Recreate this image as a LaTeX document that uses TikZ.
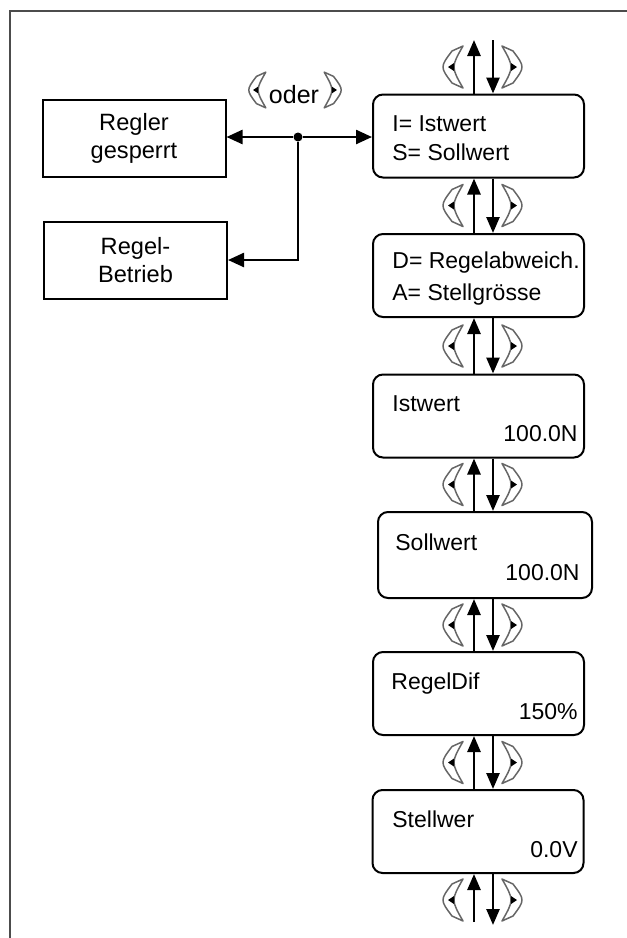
\documentclass[tikz,border=0pt]{standalone}
\usepackage{fontspec}
\setmainfont{Liberation Sans}
\usetikzlibrary{arrows.meta}
\tikzset{
  menubox/.style={draw,rounded corners=5pt,line width=1pt,
                  minimum width=105.5pt,minimum height=41.5pt,inner sep=0pt},
  statebox/.style={draw,line width=1pt,minimum width=91.5pt,minimum height=38.5pt,
                   align=center,inner sep=0pt,font=\fontsize{11.8}{14}\selectfont},
  menutext/.style={inner sep=0pt,font=\fontsize{11.5}{14}\selectfont},
  navarrow/.style={-{Triangle[length=8pt,width=6.5pt]},line width=1.3pt},
  conn/.style={-{Triangle[length=8pt,width=7pt]},line width=1.2pt},
  keyline/.style={draw=black!60,line width=0.75pt,line join=round},
  jdot/.style={circle,fill,inner sep=0pt,minimum size=4.5pt},
  keyleft/.pic={
    \draw[keyline] (-3,16) -- (8,21) .. controls (-4,0) .. (8,-21)
                   -- (-3,-16) .. controls (-15,0) .. cycle;
    \fill (-7,0) -- (-1,4) -- (-1,-4) -- cycle;
  },
  keyright/.pic={
    \draw[keyline] (3,16) -- (-8,21) .. controls (4,0) .. (-8,-21)
                   -- (3,-16) .. controls (15,0) .. cycle;
    \fill (7,0) -- (1,4) -- (1,-4) -- cycle;
  },
}

\begin{document}
\begin{tikzpicture}[x=0.5pt, y=-0.5pt]
\useasboundingbox (0,0) rectangle (627,938);
% frame (only top and left edge visible)
\draw[black!70,line width=1pt] (627,11) -- (10,11) -- (10,938);

% menu boxes
\node[menubox] (m1) at (478.5,136) {};
\node[menubox] (m2) at (478.5,275.5) {};
\node[menubox] (m3) at (478.5,416) {};
\node[menubox,minimum width=107pt,minimum height=43pt] (m4) at (485,555) {};
\node[menubox] (m5) at (478.5,693.5) {};
\node[menubox] (m6) at (478,831.5) {};

\node[menutext,anchor=base west] (isA) at (392,131) {I= Istwert};
\node[menutext,anchor=base west] (isB) at (392,160) {S= Sollwert};
\node[menutext,anchor=base west] (daA) at (392,268) {D= Regelabweich.};
\node[menutext,anchor=base west] (daB) at (392,300) {A= Stellgrösse};
\node[menutext,anchor=base west] (istA) at (392,411) {Istwert};
\node[menutext,anchor=base east] (istB) at (578,441) {100.0N};
\node[menutext,anchor=base west] (solA) at (395,550) {Sollwert};
\node[menutext,anchor=base east] (solB) at (580,580) {100.0N};
\node[menutext,anchor=base west] (difA) at (391,689) {RegelDif};
\node[menutext,anchor=base east] (difB) at (578,719) {150\%};
\node[menutext,anchor=base west] (stwA) at (392,827) {Stellwer};
\node[menutext,anchor=base east] (stwB) at (578,857) {0.0V};

% state boxes
\node[statebox] (sperr) at (134,138.5) {Regler\\gesperrt};
\node[statebox] (betr) at (135.5,260) {Regel-\\Betrieb};

% branching connector
\node[jdot] (jn) at (298,137) {};
\draw[conn] (jn) -- (jn -| sperr.east);
\draw[conn] (jn) -- (jn -| m1.west);
\draw[conn] (jn) |- (betr.east);
\pic[scale=0.85] at (259,90) {keyleft};
\pic[scale=0.85] at (331,90) {keyright};
\node[menutext,anchor=base,font=\fontsize{12.5}{14}\selectfont] (oder) at (294,103) {oder};

% navigation arrows
\coordinate (upcol) at (474,0);
\coordinate (dncol) at (493,0);
\coordinate (topUp) at (474,40);
\coordinate (topDn) at (493,40);
\coordinate (botUp) at (474,922);
\coordinate (botDn) at (493,925);

\draw[navarrow] (m1.north -| upcol) -- (topUp);
\draw[navarrow] (topDn) -- (m1.north -| dncol);
\pic at (455,67) {keyleft};
\pic at (510,67) {keyright};

\foreach \a/\b/\m in {m1/m2/205.5, m2/m3/346, m3/m4/484.5, m4/m5/625, m5/m6/762.5} {
  \draw[navarrow] (\b.north -| upcol) -- (\a.south -| upcol);
  \draw[navarrow] (\a.south -| dncol) -- (\b.north -| dncol);
  \pic at (455,\m) {keyleft};
  \pic at (510,\m) {keyright};
}

\draw[navarrow] (botUp) -- (m6.south -| upcol);
\draw[navarrow] (m6.south -| dncol) -- (botDn);
\pic at (455,900) {keyleft};
\pic at (510,900) {keyright};
\end{tikzpicture}
\end{document}
